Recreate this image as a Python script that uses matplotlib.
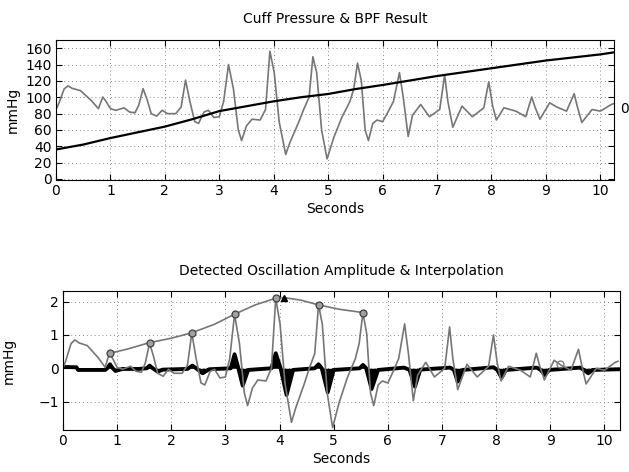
import matplotlib

matplotlib.use("Agg")
import matplotlib.pyplot as plt
import matplotlib.transforms as mtransforms

# --- values ----------------------------------------------------------------
# cuff pressure ramp (mmHg)
RAMP_T = [0.0, 0.5, 1.0, 1.5, 2.0, 2.5, 3.0, 3.5, 4.0, 4.5, 5.0, 5.5, 6.0,
          7.0, 8.0, 9.0, 10.0, 10.25]
RAMP_P = [36, 42, 50, 57, 64, 73, 83, 89, 95, 100, 104, 110, 115,
          126, 135.5, 145, 152.5, 155]

# band-pass filtered oscillation (mmHg, zero-mean)
BPF_T = [0.00, 0.05, 0.15, 0.22, 0.30, 0.45, 0.55, 0.65, 0.78, 0.86, 0.92,
         1.00, 1.10, 1.25, 1.35, 1.45, 1.52, 1.60, 1.67, 1.75, 1.85, 1.95,
         2.05, 2.20, 2.30, 2.38, 2.46, 2.55, 2.62, 2.72, 2.80, 2.90, 3.00,
         3.08, 3.17, 3.26, 3.35, 3.41, 3.50, 3.60, 3.75, 3.85, 3.93, 4.01,
         4.10, 4.22, 4.30, 4.45, 4.55, 4.65, 4.72, 4.79, 4.88, 4.98, 5.10,
         5.25, 5.40, 5.47, 5.54, 5.61, 5.68, 5.74, 5.82, 5.90, 6.00, 6.10,
         6.20, 6.31, 6.38, 6.47, 6.55, 6.70, 6.86, 7.05, 7.14, 7.20, 7.29,
         7.46, 7.65, 7.86, 7.95, 8.02, 8.09, 8.23, 8.45, 8.63, 8.74, 8.80,
         8.89, 9.07, 9.20, 9.38, 9.52, 9.58, 9.66, 9.85, 10.00, 10.20, 10.25]
BPF_V = [0.00, 0.21, 0.74, 0.85, 0.76, 0.68, 0.50, 0.32, 0.03, 0.45, 0.29,
         0.03, -0.03, 0.06, -0.09, -0.12, 0.15, 0.75, 0.38, -0.15, -0.24, -0.03,
         -0.15, -0.15, 0.09, 1.06, 0.29, -0.44, -0.50, -0.09, -0.03, -0.29, -0.26,
         0.29, 1.62, 0.74, -0.74, -1.12, -0.59, -0.35, -0.38, 0.00, 2.10, 1.32,
         -0.44, -1.62, -1.18, -0.50, 0.00, 0.44, 1.90, 1.32, -0.74, -1.78, -1.03,
         -0.29, 0.29, 0.74, 1.67, 1.03, -0.74, -1.12, -0.50, -0.38, -0.44, -0.09,
         0.29, 1.33, 0.44, -0.97, -0.21, 0.18, -0.26, 0.00, 1.24, 0.29, -0.64,
         0.12, -0.26, 0.06, 1.00, 0.15, -0.38, 0.06, -0.06, -0.26, 0.45, 0.09,
         -0.35, 0.24, 0.09, -0.06, 0.57, 0.09, -0.47, 0.00, -0.06, 0.18, 0.21]

# derivative-like detector output (black, filled to zero)
DET_T = [0.00, 0.25, 0.28, 0.78, 0.82, 0.87, 0.92, 0.97, 1.10, 1.40, 1.55,
         1.60, 1.66, 1.75, 1.85, 2.30, 2.39, 2.46, 2.58, 2.70, 3.10, 3.17,
         3.24, 3.32, 3.42, 3.85, 3.93, 4.02, 4.13, 4.25, 4.65, 4.72, 4.78,
         4.89, 5.00, 5.48, 5.54, 5.60, 5.70, 5.82, 6.30, 6.40, 6.50, 6.60,
         7.15, 7.22, 7.29, 7.38, 7.95, 8.02, 8.10, 8.18, 8.75, 8.82, 8.90,
         8.98, 9.55, 9.62, 9.70, 9.78, 10.25]
DET_V = [0.04, 0.03, -0.05, -0.05, 0.00, 0.12, 0.00, -0.08, -0.02, -0.02, 0.00,
         0.08, 0.00, -0.10, -0.04, -0.02, 0.08, 0.00, -0.15, -0.03, 0.00, 0.42,
         0.00, -0.52, -0.05, 0.00, 0.45, 0.00, -0.80, -0.05, 0.00, 0.12, 0.00,
         -0.72, -0.05, 0.00, 0.10, 0.00, -0.62, -0.05, 0.02, -0.05, -0.55, -0.04,
         0.02, -0.05, -0.40, -0.05, 0.03, -0.05, -0.28, -0.05, 0.02, -0.05, -0.20,
         -0.05, 0.02, -0.05, -0.15, -0.05, -0.03]

# detected peaks and the interpolated envelope
PEAK_T = [0.87, 1.60, 2.39, 3.17, 3.93, 4.72, 5.54]
PEAK_V = [0.45, 0.77, 1.07, 1.62, 2.10, 1.90, 1.67]
ENV_T = [0.87, 1.20, 1.60, 2.00, 2.39, 2.80, 3.17, 3.55, 3.93, 4.08, 4.40,
         4.72, 5.10, 5.54]
ENV_V = [0.45, 0.58, 0.77, 0.90, 1.07, 1.32, 1.62, 1.90, 2.10, 2.12, 2.04,
         1.90, 1.77, 1.67]
MAX_T, MAX_V = [4.08], [2.12]
EXTRA_T, EXTRA_V = [9.17], [0.13]

# the BPF trace is drawn on the cuff axes around a shifted zero
BPF_OFFSET = 85.0
BPF_GAIN = 34.0

GRAY = "#767676"
GRID = "#8c8c8c"

plt.rcParams["font.family"] = "DejaVu Sans"
plt.rcParams["font.size"] = 10


def _matlab_axes(ax):
    ax.grid(True, color=GRID, linestyle=(0, (1, 3)), linewidth=0.7)
    ax.tick_params(direction="in", length=4, width=0.8, top=True, right=True,
                   pad=3, labelsize=10)
    for sp in ax.spines.values():
        sp.set_linewidth(0.8)
    ax.set_axisbelow(True)


fig = plt.figure(figsize=(6.29, 4.72), dpi=100)

# --- top: cuff pressure and BPF result -------------------------------------
ax1 = fig.add_axes([0.089, 0.619, 0.887, 0.296])
ax1.plot(BPF_T, [BPF_OFFSET + BPF_GAIN * v for v in BPF_V], color=GRAY,
         linewidth=1.2)
ax1.plot(RAMP_T, RAMP_P, color="black", linewidth=1.6)
ax1.set_xlim(0, 10.25)
ax1.set_ylim(-1.2, 170)
ax1.set_xticks(range(0, 11))
ax1.set_yticks(range(0, 161, 20))
ax1.set_title("Cuff Pressure & BPF Result", fontsize=10, pad=12)
ax1.set_xlabel("Seconds", fontsize=10, labelpad=3)
ax1.set_ylabel("mmHg", fontsize=10, labelpad=4)
_matlab_axes(ax1)
trans = mtransforms.blended_transform_factory(ax1.transAxes, ax1.transData)
ax1.text(1.012, BPF_OFFSET, "0", transform=trans, ha="left", va="center",
         fontsize=10)

# --- bottom: detected oscillation amplitude --------------------------------
ax2 = fig.add_axes([0.100, 0.089, 0.886, 0.294])
ax2.fill_between(DET_T, DET_V, 0, color="black", linewidth=0)
ax2.plot(DET_T, DET_V, color="black", linewidth=2.8)
ax2.plot(BPF_T, BPF_V, color=GRAY, linewidth=1.2)
ax2.plot(ENV_T, ENV_V, color=GRAY, linewidth=1.2)
ax2.plot(PEAK_T, PEAK_V, linestyle="none", marker="o", markersize=5,
         markerfacecolor="#a0a0a0", markeredgecolor="#404040",
         markeredgewidth=0.9)
ax2.plot(EXTRA_T, EXTRA_V, linestyle="none", marker="o", markersize=5,
         markerfacecolor="none", markeredgecolor=GRAY, markeredgewidth=0.9)
ax2.plot(MAX_T, MAX_V, linestyle="none", marker="^", markersize=4,
         color="black")
ax2.set_xlim(0, 10.29)
ax2.set_ylim(-1.85, 2.31)
ax2.set_xticks(range(0, 11))
ax2.set_yticks([-1, 0, 1, 2])
ax2.set_title("Detected Oscillation Amplitude & Interpolation", fontsize=10,
              pad=12)
ax2.set_xlabel("Seconds", fontsize=10, labelpad=3)
ax2.set_ylabel("mmHg", fontsize=10, labelpad=16)
_matlab_axes(ax2)

fig.savefig("out.png", dpi=100, facecolor="white")
